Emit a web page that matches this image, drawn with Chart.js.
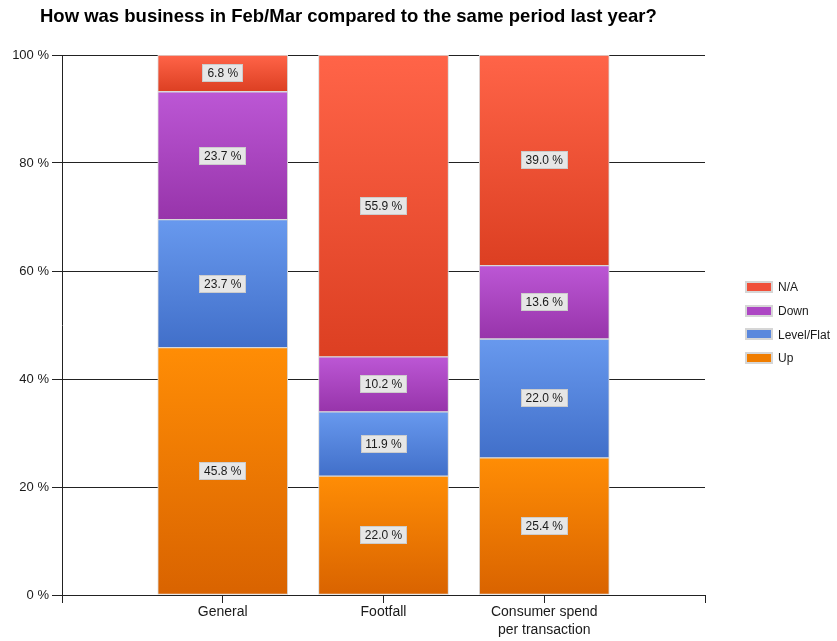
<!DOCTYPE html>
<html lang="en">
<head>
    <meta charset="UTF-8">
    <title>Business Feb/Mar</title>
    <script src="https://cdn.jsdelivr.net/npm/chart.js"></script>
    <style>
        html, body { margin: 0; padding: 0; background: #fff; }
    </style>
</head>
<body>
    <canvas id="grafico" width="837" height="641"></canvas>

<script>
    // empty slots at both ends keep the three bars away from the axis ends
    const categorias = ['', 'General', 'Footfall', ['Consumer spend', 'per transaction'], ''];
    const up = [null, 45.8, 22.0, 25.4, null];
    const levelFlat = [null, 23.7, 11.9, 22.0, null];
    const down = [null, 23.7, 10.2, 13.6, null];
    const na = [null, 6.8, 55.9, 39.0, null];
    const yTicks = [0, 20, 40, 60, 80, 100];

    const titulo = 'How was business in Feb/Mar compared to the same period last year?';
    const fonte = '"Liberation Sans", Arial, sans-serif';

    // top / bottom colour of each segment gradient, plus the legend swatch
    const cores = {
        up: ['#ff8d05', '#d96300', '#f07d00'],
        levelFlat: ['#6899ee', '#416fc9', '#5a88dd'],
        down: ['#bc57d5', '#9734aa', '#ad47c4'],
        na: ['#ff6448', '#dc3f22', '#f0503a']
    };

    function degrade(par) {
        return function (ctx) {
            const chart = ctx.chart;
            const y = chart.scales.y;
            if (!y || ctx.type !== 'data' || ctx.raw == null) return par[2];
            let base = 0;
            for (let d = 0; d < ctx.datasetIndex; d++) {
                base += chart.data.datasets[d].data[ctx.dataIndex] || 0;
            }
            const topo = y.getPixelForValue(base + ctx.raw);
            const fundo = y.getPixelForValue(base);
            if (!isFinite(topo) || !isFinite(fundo) || topo === fundo) return par[2];
            const g = chart.ctx.createLinearGradient(0, topo, 0, fundo);
            g.addColorStop(0, par[0]);
            g.addColorStop(1, par[1]);
            return g;
        };
    }

    function serie(nome, dados, par) {
        return {
            label: nome,
            data: dados,
            backgroundColor: degrade(par),
            legendColor: par[2],
            borderColor: '#d9d9d9',
            borderWidth: 1,
            borderSkipped: false,
            barThickness: 130
        };
    }

    // boxed value labels in the middle of each segment
    const rotulos = {
        id: 'rotulos',
        afterDatasetsDraw(chart) {
            const c = chart.ctx;
            c.save();
            c.font = '12px ' + fonte;
            c.textAlign = 'center';
            c.textBaseline = 'middle';
            chart.data.datasets.forEach(function (ds, d) {
                chart.getDatasetMeta(d).data.forEach(function (barra, i) {
                    const v = ds.data[i];
                    if (v == null) return;
                    const texto = v.toFixed(1) + ' %';
                    const cy = Math.round((barra.y + barra.base) / 2);
                    const w = Math.round(c.measureText(texto).width + 10);
                    const h = 18;
                    const x0 = Math.round(barra.x - w / 2);
                    const y0 = cy - h / 2;
                    c.fillStyle = '#e6e6e6';
                    c.fillRect(x0, y0, w, h);
                    c.strokeStyle = '#cccccc';
                    c.lineWidth = 1;
                    c.strokeRect(x0 + 0.5, y0 + 0.5, w - 1, h - 1);
                    c.fillStyle = '#1a1a1a';
                    c.fillText(texto, barra.x, cy + 1);
                });
            });
            c.restore();
        }
    };

    // title top-left and legend on the right, series listed top to bottom
    const tituloLegenda = {
        id: 'tituloLegenda',
        afterDraw(chart) {
            const c = chart.ctx;
            c.save();
            c.fillStyle = '#000';
            c.font = 'bold 18.5px ' + fonte;
            c.textAlign = 'left';
            c.textBaseline = 'middle';
            c.fillText(titulo, 40, 17);

            c.font = '12px ' + fonte;
            const itens = chart.data.datasets.slice().reverse();
            itens.forEach(function (ds, k) {
                const cy = 287 + k * 23.7;
                c.fillStyle = '#d6d6d6';
                c.fillRect(745, Math.round(cy - 6), 28, 12);
                c.fillStyle = ds.legendColor;
                c.fillRect(747, Math.round(cy - 4), 24, 8);
                c.fillStyle = '#1a1a1a';
                c.fillText(ds.label, 778, cy + 1);
            });
            c.restore();
        }
    };

    const config = {
        type: 'bar',
        data: {
            labels: categorias,
            datasets: [
                serie('Up', up, cores.up),
                serie('Level/Flat', levelFlat, cores.levelFlat),
                serie('Down', down, cores.down),
                serie('N/A', na, cores.na)
            ]
        },
        options: {
            responsive: false,
            animation: false,
            layout: { padding: { left: 0, right: 132, top: 55, bottom: 0 } },
            plugins: {
                legend: { display: false },
                title: { display: false },
                tooltip: { enabled: false }
            },
            scales: {
                x: {
                    stacked: true,
                    offset: false,
                    afterFit: function (s) { s.height = 46; },
                    grid: { offset: false, drawOnChartArea: false, drawTicks: true, tickLength: 8, color: '#222' },
                    border: { color: '#222' },
                    ticks: {
                        autoSkip: false,
                        maxRotation: 0,
                        padding: 0,
                        color: '#1a1a1a',
                        font: { family: fonte, size: 14, lineHeight: 1.3 }
                    }
                },
                y: {
                    stacked: true,
                    min: 0,
                    max: 100,
                    afterFit: function (s) { s.width = 62; },
                    afterBuildTicks: function (s) {
                        s.ticks = yTicks.map(function (v) { return { value: v }; });
                    },
                    grid: { color: '#222', tickLength: 10 },
                    border: { color: '#222' },
                    ticks: {
                        padding: 3,
                        color: '#1a1a1a',
                        font: { family: fonte, size: 13 },
                        callback: function (v) { return v + ' %'; }
                    }
                }
            }
        },
        plugins: [rotulos, tituloLegenda]
    };

    let grafico = new Chart(document.getElementById('grafico'), config);
</script>
</body>
</html>
